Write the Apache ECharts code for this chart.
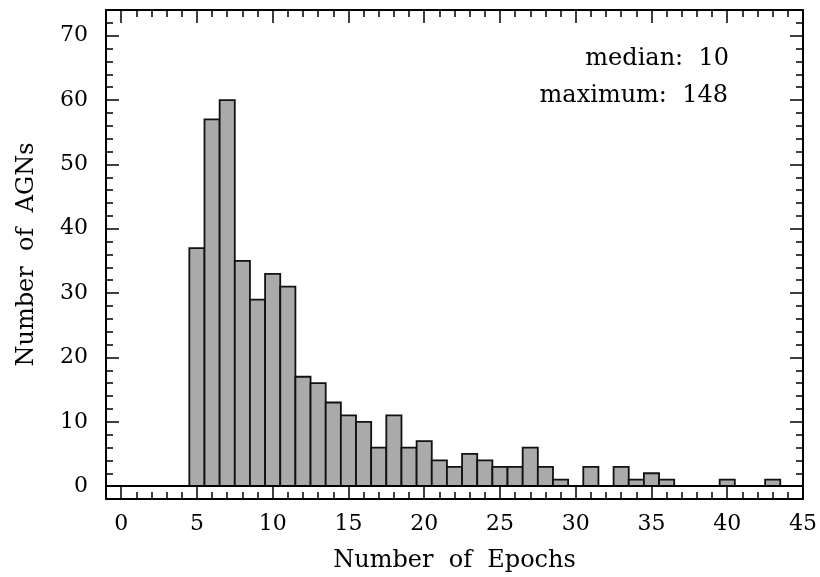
<!DOCTYPE html>
<html>
<head>
<meta charset="utf-8">
<script src="https://cdn.jsdelivr.net/npm/echarts@6/dist/echarts.min.js"></script>
<style>
  html, body { margin: 0; padding: 0; background: #fff; }
  #chart { width: 820px; height: 577px; }
</style>
</head>
<body>
<div id="chart"></div>
<script>
// Histogram of the number of epochs per AGN (bins of width 1, centred on integers)
const epochs = [5, 6, 7, 8, 9, 10, 11, 12, 13, 14, 15, 16, 17, 18, 19, 20, 21, 22, 23, 24,
                25, 26, 27, 28, 29, 30, 31, 32, 33, 34, 35, 36, 37, 38, 39, 40, 41, 42, 43, 44];
const counts = [37, 57, 60, 35, 29, 33, 31, 17, 16, 13, 11, 10, 6, 11, 6, 7, 4, 3, 5, 4,
                3, 3, 6, 3, 1, 0, 3, 0, 3, 1, 2, 1, 0, 0, 0, 1, 0, 0, 1, 0];

// Axis ticks
const xMajorTicks = [0, 5, 10, 15, 20, 25, 30, 35, 40, 45];
const xMinorTicks = Array.from({ length: 46 }, (_, i) => i);
const yMajorTicks = [0, 10, 20, 30, 40, 50, 60, 70];
const yMinorTicks = Array.from({ length: 38 }, (_, i) => -2 + 2 * i);

const annotations = ['median:  10', 'maximum:  148'];

const FONT = 'DejaVu Serif';
const X_MIN = -1, X_MAX = 45, Y_MIN = -2, Y_MAX = 74;

function xAxisDef(position, ticks, len, withLabels, withLine) {
  return {
    type: 'value', position, min: X_MIN, max: X_MAX,
    axisLine: { show: withLine, onZero: false, lineStyle: { color: '#000', width: 2 } },
    axisTick: { show: true, inside: true, length: len, customValues: ticks,
                lineStyle: { color: '#000', width: 1.5 } },
    axisLabel: withLabels
      ? { show: true, customValues: xMajorTicks, color: '#000', fontFamily: FONT, fontSize: 22, margin: 14 }
      : { show: false },
    splitLine: { show: false },
    name: withLabels ? 'Number  of  Epochs' : '',
    nameLocation: 'middle', nameGap: 50,
    nameTextStyle: { color: '#000', fontFamily: FONT, fontSize: 24 }
  };
}

function yAxisDef(position, ticks, len, withLabels, withLine) {
  return {
    type: 'value', position, min: Y_MIN, max: Y_MAX,
    axisLine: { show: withLine, onZero: false, lineStyle: { color: '#000', width: 2 } },
    axisTick: { show: true, inside: true, length: len, customValues: ticks,
                lineStyle: { color: '#000', width: 1.5 } },
    axisLabel: withLabels
      ? { show: true, customValues: yMajorTicks, color: '#000', fontFamily: FONT, fontSize: 22, margin: 18 }
      : { show: false },
    splitLine: { show: false },
    name: withLabels ? 'Number  of  AGNs' : '',
    nameLocation: 'middle', nameGap: 67,
    nameTextStyle: { color: '#000', fontFamily: FONT, fontSize: 24 }
  };
}

const chart = echarts.init(document.getElementById('chart'), null, { renderer: 'canvas' });

chart.setOption({
  backgroundColor: '#fff',
  animation: false,
  grid: { left: 106, right: 17, top: 10, bottom: 78, containLabel: false, outerBoundsMode: 'none' },
  xAxis: [
    xAxisDef('bottom', xMajorTicks, 13, true, true),
    xAxisDef('bottom', xMinorTicks, 7, false, false),
    xAxisDef('top', xMajorTicks, 13, false, true),
    xAxisDef('top', xMinorTicks, 7, false, false)
  ],
  yAxis: [
    yAxisDef('left', yMajorTicks, 13, true, true),
    yAxisDef('left', yMinorTicks, 7, false, false),
    yAxisDef('right', yMajorTicks, 13, false, true),
    yAxisDef('right', yMinorTicks, 7, false, false)
  ],
  graphic: [
    {
      type: 'text', right: 91, top: 47,
      style: { text: annotations[0], fontFamily: FONT, fontSize: 24, fill: '#000', textAlign: 'right' }
    },
    {
      type: 'text', right: 92, top: 84,
      style: { text: annotations[1], fontFamily: FONT, fontSize: 24, fill: '#000', textAlign: 'right' }
    }
  ],
  series: [{
    type: 'custom',
    xAxisIndex: 0,
    yAxisIndex: 0,
    data: epochs.map((e, i) => [e, counts[i]]),
    renderItem: function (params, api) {
      const x = api.value(0), y = api.value(1);
      if (!y) return null;
      const topLeft = api.coord([x - 0.5, y]);
      const bottomRight = api.coord([x + 0.5, 0]);
      return {
        type: 'rect',
        shape: {
          x: topLeft[0], y: topLeft[1],
          width: bottomRight[0] - topLeft[0],
          height: bottomRight[1] - topLeft[1]
        },
        style: { fill: '#aaaaaa', stroke: '#111', lineWidth: 1.8 }
      };
    },
    markLine: {
      silent: true,
      symbol: ['none', 'none'],
      label: { show: false },
      lineStyle: { color: '#000', width: 1.8, type: 'solid' },
      data: [{ yAxis: 0 }]
    },
    z: 1
  }]
});
</script>
</body>
</html>
